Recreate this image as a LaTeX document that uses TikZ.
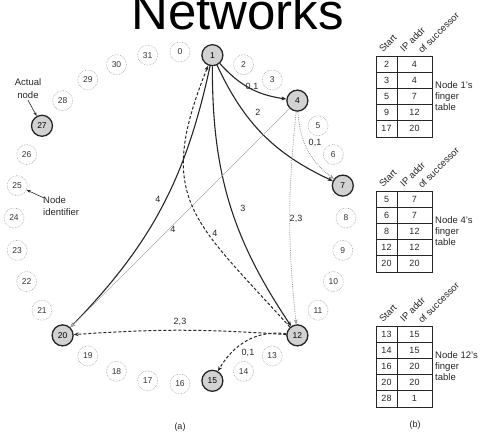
\documentclass[tikz,border=0pt]{standalone}
\usepackage{fontspec}
\setmainfont{Liberation Sans}
\usetikzlibrary{arrows.meta,calc}
\begin{document}
\begin{tikzpicture}[x=1pt,y=1pt,
  idnode/.style={circle, draw=gray!75, densely dotted, line width=0.6pt, minimum size=20pt, inner sep=0pt, font=\fontsize{8.5}{9}\selectfont, text=black!80},
  actnode/.style={circle, draw=black!85, line width=1.3pt, fill=gray!35, minimum size=21pt, inner sep=0pt, font=\fontsize{8.5}{9}\selectfont},
  solidarr/.style={-{Stealth[length=5pt,width=4pt]}, line width=1.1pt, draw=black!85},
  dasharr/.style={-{Stealth[length=5pt,width=4pt]}, line width=1pt, dash pattern=on 3pt off 2pt, draw=black!85},
  grayarr/.style={-{Stealth[length=5pt,width=4pt]}, line width=0.6pt, draw=gray!65},
  dotarr/.style={-{Stealth[length=5pt,width=4pt]}, line width=0.8pt, draw=gray!80, densely dotted},
  pointer/.style={-{Stealth[length=4pt,width=3pt]}, line width=0.6pt, draw=black!85},
  lbl/.style={font=\fontsize{9}{10}\selectfont, inner sep=1pt, text=black!85},
  cell/.style={draw=black!85, line width=0.8pt, inner sep=0pt, minimum height=16.2pt, font=\fontsize{9}{10}\selectfont, text=black!85},
  hdr/.style={rotate=45, anchor=base west, inner sep=0pt, font=\fontsize{9.5}{10}\selectfont, text=black!85},
  tbllbl/.style={align=left, anchor=north west, inner sep=0pt, font=\fontsize{9.5}{11}\selectfont, text=black!85},
]
\useasboundingbox (0,0) rectangle (480,434);
\clip (0,0) rectangle (480,434);

% title
\node[anchor=base west, inner sep=0pt, font=\fontsize{51}{51}\selectfont] (title) at (131,404) {Networks};

% ring of identifiers
\coordinate (C) at (180,216);
\foreach \i in {0,2,3,5,6,8,9,10,11,13,14,16,17,18,19,21,22,23,24,25,26,28,29,30,31} {
  \node[idnode] (n\i) at ($(C)+(90-11.25*\i:166)$) {\i};
}
\foreach \i in {1,4,7,12,15,20,27} {
  \node[actnode] (n\i) at ($(C)+(90-11.25*\i:166)$) {\i};
}

% annotations
\node[lbl, align=center, font=\fontsize{9.5}{13}\selectfont] (actual) at (28,345) {Actual\\node};
\draw[pointer] (actual.south) -- (n27);
\node[lbl, align=left, anchor=west, font=\fontsize{9.5}{12}\selectfont] (ident) at (42,228) {Node\\identifier};
\coordinate (identtail) at (44,236);
\draw[pointer] (identtail) -- (n25);

% connectors
\draw[solidarr] (n1) to[bend right=20] (n4);
\draw[solidarr] (n1) to[bend right=20] (n7);
\draw[solidarr] (n1) to[bend right=17] (n12);
\draw[solidarr] (n1) to[bend left=16] (n20);
\draw[grayarr] (n4) -- (n20);
\draw[dotarr] (n4) to[bend right=6] (n12);
\draw[dotarr] (n4) to[bend right=25] (n7);
\draw[dasharr] (n12) to[out=132,in=-112,looseness=1.35] (n1);
\draw[dasharr] (n12) to[bend right=4] (n20);
\draw[dasharr] (n12) to[out=172,in=60] (n15);

% connector labels
\node[lbl] (l1a) at (252,347) {0,1};
\node[lbl] (l1b) at (258,322) {2};
\node[lbl] (l1c) at (243,226) {3};
\node[lbl] (l1d) at (158,235) {4};
\node[lbl] (l4a) at (173,205) {4};
\node[lbl] (l12a) at (215,201) {4};
\node[lbl] (l4b) at (296,215) {2,3};
\node[lbl] (l4c) at (315,291) {0,1};
\node[lbl] (l12b) at (180,112) {2,3};
\node[lbl] (l12c) at (248,81) {0,1};

% captions
\node[lbl] (capa) at (180,7) {(a)};
\node[lbl] (capb) at (415,9) {(b)};

% finger tables
\foreach \top/\tn/\nm/\rows in {378/1/1/{2/4,3/4,5/7,9/12,17/20},
                                243/2/4/{5/7,6/7,8/12,12/12,20/20},
                                108/3/12/{13/15,14/15,16/20,20/20,28/1}} {
  \foreach \a/\b [count=\r] in \rows {
    \node[cell, minimum width=21pt] (t\tn a\r) at (386.5,{\top-16.2*\r+8.1}) {\a};
    \node[cell, minimum width=35pt] (t\tn b\r) at (414.5,{\top-16.2*\r+8.1}) {\b};
  }
  \node[hdr] (t\tn h1) at (383,{\top+3}) {Start};
  \node[hdr] (t\tn h2) at (404,{\top+3}) {IP addr};
  \node[hdr] (t\tn h3) at (422,{\top+2}) {of successor};
  \node[tbllbl] (t\tn lbl) at (435,{\top-25}) {Node \nm's\\finger\\table};
}
\end{tikzpicture}
\end{document}
